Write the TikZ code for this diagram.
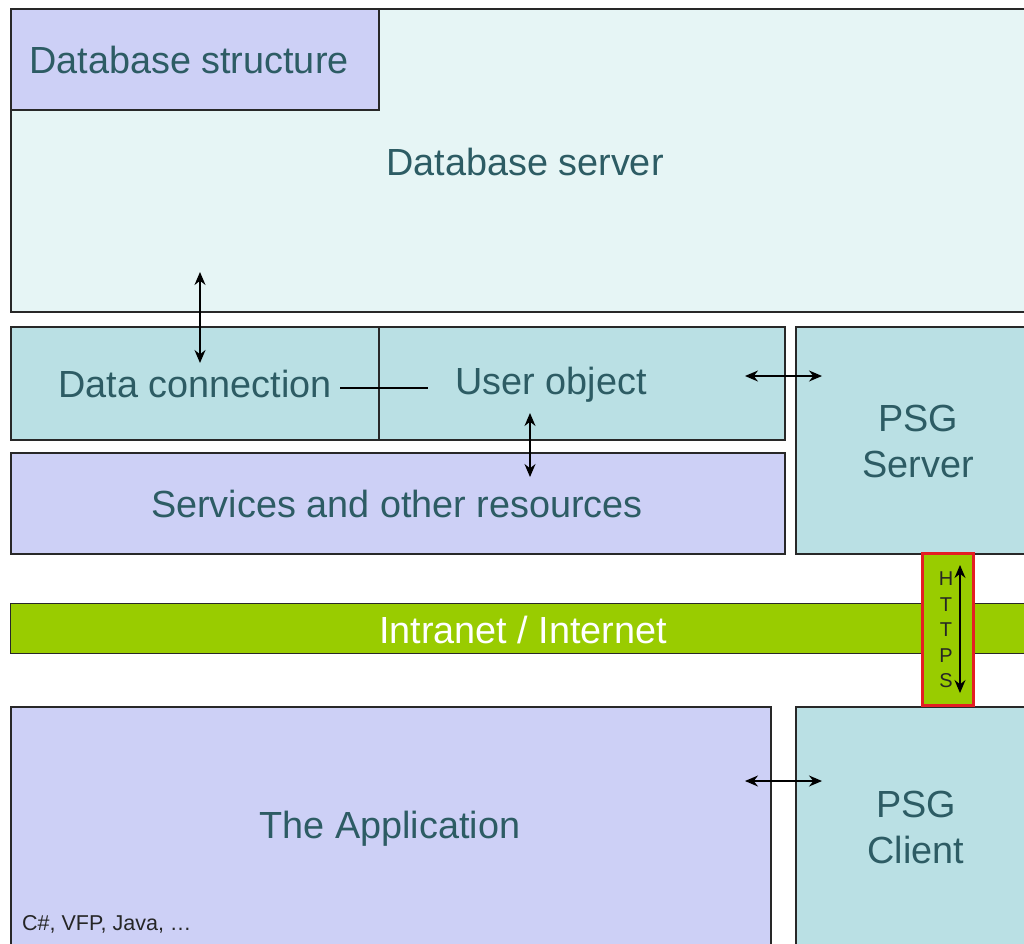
\documentclass[tikz,border=0pt]{standalone}
\usepackage{fontspec}
\setmainfont{Liberation Sans}
\usetikzlibrary{arrows.meta}
\definecolor{lav}{RGB}{205,208,246}
\definecolor{teal1}{RGB}{186,224,228}
\definecolor{pale}{RGB}{230,245,245}
\definecolor{grn}{RGB}{153,204,0}
\definecolor{txt}{RGB}{45,92,100}
\definecolor{bord}{RGB}{40,40,40}
\definecolor{redb}{RGB}{228,30,36}
\begin{document}
\begin{tikzpicture}[x=1pt,y=-1pt,
 box/.style={draw=bord,line width=1.5pt,inner sep=0pt,anchor=north west},
 lbl/.style={text=txt,font=\fontsize{37.8}{46}\selectfont,align=center,inner sep=0pt},
 dbl/.style={{Stealth[length=13pt,width=11pt]}-{Stealth[length=13pt,width=11pt]},line width=1.4pt,black},
 plain/.style={line width=1.4pt,black}]
\useasboundingbox[fill=white] (0,0) rectangle (1024,943);
\clip (0,0) rectangle (1024,943);
% boxes
\node[box,fill=pale,minimum width=1030pt,minimum height=303pt] (dbserver) at (10,8) {};
\node[box,fill=lav,minimum width=368pt,minimum height=101pt] (dbstruct) at (10,8) {};
\node[box,fill=teal1,minimum width=368pt,minimum height=113pt] (dataconn) at (10,326) {};
\node[box,fill=teal1,minimum width=406pt,minimum height=113pt] (userobj) at (378,326) {};
\node[box,fill=lav,minimum width=774pt,minimum height=101pt] (services) at (10,452) {};
\node[box,fill=teal1,minimum width=240pt,minimum height=227pt] (psgserver) at (795,326) {};
\node[box,fill=grn,line width=1pt,minimum width=1030pt,minimum height=50pt] (net) at (10,603) {};
\node[box,fill=lav,minimum width=760pt,minimum height=245pt] (app) at (10,706) {};
\node[box,fill=teal1,minimum width=240pt,minimum height=245pt] (psgclient) at (795,706) {};
\node[draw=redb,line width=3pt,fill=grn,inner sep=0pt,minimum width=51pt,minimum height=152pt] (https) at (947.5,629) {};
% texts
\node[lbl] (tstruct) at (189,60) {Database structure};
\node[lbl] (tserver) at (525,162) {Database server};
\node[lbl] (tconn) at (195,384) {Data connection};
\node[lbl] (tuser) at (551,385) {User object};
\node[lbl] (tserv) at (397,504) {Services and other resources};
\node[lbl] (tpsgs) at (918,441) {PSG\\Server};
\node[lbl,text=white] (tnet) at (523,630) {Intranet / Internet};
\node[lbl] (tapp) at (390,829) {The Application};
\node[lbl] (tpsgc) at (916,827) {PSG\\Client};
\node[anchor=base west,inner sep=0pt,font=\fontsize{21.5}{24}\selectfont,text=black!85] (lang) at (22,930) {C\#, VFP, Java, \ldots};
\node[font=\fontsize{20}{25.5}\selectfont,align=center,inner sep=0pt,text=black!85] (hletters) at (946,630) {H\\T\\T\\P\\S};
% connectors
\coordinate (a1) at (200,272); \coordinate (a2) at (200,363);
\draw[dbl] (a1) -- (a2);
\coordinate (l1) at (340,388); \coordinate (l2) at (428,388);
\draw[plain] (l1) -- (l2);
\coordinate (b1) at (530,413); \coordinate (b2) at (530,477);
\draw[dbl] (b1) -- (b2);
\coordinate (c1) at (745,376); \coordinate (c2) at (822,376);
\draw[dbl] (c1) -- (c2);
\coordinate (d1) at (745,781); \coordinate (d2) at (822,781);
\draw[dbl] (d1) -- (d2);
\coordinate (h1) at (960,565); \coordinate (h2) at (960,693);
\draw[dbl] (h1) -- (h2);
\end{tikzpicture}
\end{document}
